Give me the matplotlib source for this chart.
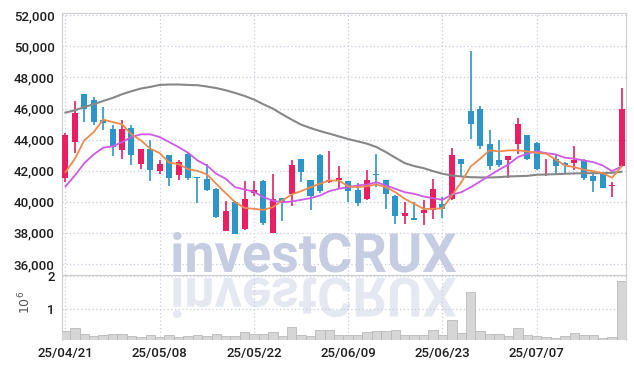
import numpy
from matplotlib import pyplot
from matplotlib.font_manager import FontProperties
from matplotlib.patches import PathPatch
from matplotlib.textpath import TextPath
from matplotlib.transforms import Affine2D, IdentityTransform

# daily candles, 25/04/21 .. 25/07/18 (trading days only)
opens = [41520, 43850, 46920, 46540, 45290, 44710, 43360, 44750, 42450, 43420,
         41975, 42990, 41740, 43100, 41560, 41480, 40840, 38150, 40020, 38260,
         40580, 41370, 37975, 40255, 40515, 42730, 41420, 42990, 41245, 41375,
         41310, 40730, 40150, 41790, 41375, 40405, 39070, 38990, 39265, 39485,
         39870, 40190, 42730, 45845, 45955, 43700, 42665, 42710, 43740, 44280,
         43810, 41700, 42730, 42470, 42490, 42710, 41630, 41760, 40990, 42280]
highs = [44420, 46490, 46970, 46750, 46100, 44920, 45290, 44920, 43400, 43950,
         42710, 43000, 42660, 43160, 41580, 42450, 40870, 40080, 40030, 41310,
         41370, 41380, 41760, 40270, 42710, 42760, 41430, 43100, 43265, 42280,
         41330, 41200, 42065, 43050, 41390, 40420, 39975, 39975, 40085, 41485,
         40300, 43485, 42740, 49700, 46150, 44645, 43955, 42930, 45420, 44300,
         43830, 42775, 42990, 42560, 43590, 42730, 41760, 41780, 41300, 47355]
lows = [41260, 43140, 45130, 44920, 44650, 42920, 42770, 42400, 42080, 41370,
        41760, 40990, 41375, 41420, 39910, 40665, 38970, 38100, 37900, 38200,
        40400, 38515, 37970, 38790, 39700, 41265, 39480, 40570, 41200, 40885,
        39975, 39740, 40140, 40940, 39550, 38580, 38580, 38800, 38515, 38900,
        38950, 40100, 41590, 44065, 43420, 42065, 42230, 41550, 43100, 42700,
        42020, 41690, 41845, 41845, 42065, 41375, 40620, 40860, 40300, 42250]
closes = [44280, 45700, 46000, 45140, 45070, 43520, 44710, 43010, 43370, 42020,
          42450, 41520, 42555, 41520, 41520, 40730, 39050, 39440, 37940, 40190,
          40790, 38620, 40190, 39975, 42340, 41910, 40405, 40665, 41420, 41520,
          40720, 39910, 41375, 41740, 40515, 39070, 39290, 38840, 39485, 40795,
          39550, 42990, 42405, 44990, 43570, 42280, 42340, 42920, 44990, 42775,
          42130, 41805, 42280, 42360, 42665, 41520, 41330, 40880, 41095, 45955]

# volume in millions of shares
volumes = [0.36, 0.43, 0.25, 0.19, 0.22, 0.25, 0.25, 0.19, 0.16, 0.22,
           0.16, 0.22, 0.16, 0.19, 0.22, 0.19, 0.25, 0.19, 0.19, 0.31,
           0.25, 0.25, 0.31, 0.19, 0.46, 0.22, 0.19, 0.37, 0.37, 0.22,
           0.22, 0.22, 0.31, 0.34, 0.34, 0.37, 0.22, 0.22, 0.22, 0.37,
           0.22, 0.67, 0.28, 1.51, 0.34, 0.25, 0.25, 0.19, 0.43, 0.22,
           0.19, 0.16, 0.13, 0.19, 0.28, 0.22, 0.22, 0.13, 0.16, 1.84]

# moving averages as drawn on the chart
ma_short = [41910, 42774, 43955, 44490, 45290, 45135, 44987, 44342, 43955, 43419,
            43135, 42520, 42430, 42100, 41990, 41770, 41161, 40555, 39974, 39612,
            39548, 39483, 39651, 40083, 40471, 40687, 40941, 41161, 41374, 41374,
            41000, 40941, 41010, 41116, 40941, 40619, 40190, 39870, 39548, 39548,
            39580, 40406, 41264, 42277, 42774, 43310, 43245, 43310, 43310, 43245,
            43150, 43097, 42728, 42341, 42232, 42064, 41974, 41845, 41548, 42277]
ma_mid = [40987, 41697, 42490, 43051, 43484, 43568, 43845, 44168, 44342, 44342,
          44168, 43845, 43522, 43161, 42664, 42341, 41806, 41483, 40941, 40794,
          40650, 40297, 40083, 39974, 40019, 40126, 40232, 40406, 40687, 40838,
          40940, 41051, 41116, 41264, 41051, 40838, 40619, 40516, 40342, 40232,
          40126, 40471, 40619, 40941, 41310, 41697, 42064, 42406, 42877, 43097,
          43255, 43135, 43051, 42838, 42774, 42664, 42555, 42341, 41974, 42277]
ma_long = [45742, 45890, 46103, 46277, 46490, 46684, 46922, 47116, 47290, 47393,
           47522, 47548, 47548, 47522, 47503, 47420, 47320, 47180, 47006, 46813,
           46580, 46277, 46000, 45632, 45290, 44968, 44748, 44555, 44387, 44213,
           44039, 43890, 43742, 43522, 43200, 42838, 42490, 42300, 42168, 41974,
           41806, 41697, 41632, 41587, 41568, 41568, 41587, 41632, 41652, 41670,
           41742, 41760, 41780, 41806, 41825, 41845, 41845, 41845, 41870, 41935]

tick_index = [0, 10, 20, 30, 40, 50]
tick_labels = ["25/04/21", "25/05/08", "25/05/22", "25/06/09", "25/06/23", "25/07/07"]
price_ticks = list(range(36000, 52001, 2000))
volume_ticks = [1, 2]

RED = "#e91e63"
BLUE = "#2e95c9"
GRID = "#c8cbdf"
SPINE = "#cfcfcf"


def add_watermark(figure):
    prop = FontProperties(family="Roboto", weight="bold")
    path = TextPath((0, 0), "investCRUX", size=1, prop=prop)
    cap = TextPath((0, 0), "X", size=1, prop=prop).get_extents().height
    box = path.get_extents()
    sx = 283.0 / box.width
    sy = 38.5 / cap
    height = figure.get_size_inches()[1] * figure.dpi
    base = height - 272.0
    main = Affine2D().translate(-box.x0, 0).scale(sx, sy).translate(173, base)
    mirror = Affine2D().translate(-box.x0, 0).scale(sx, -sy).translate(173, base - 6)
    for tr, color in [(main, "#c6cde2"), (mirror, "#e5e7f1")]:
        patch = PathPatch(tr.transform_path(path), facecolor=color,
                          edgecolor="none", transform=IdentityTransform(), zorder=-1)
        figure.add_artist(patch)


def main():
    pyplot.rcParams["font.family"] = ["Roboto", "DejaVu Sans"]

    o = numpy.array(opens)
    c = numpy.array(closes)
    x = numpy.arange(len(o))
    colors = numpy.where(c >= o, RED, BLUE)

    figure = pyplot.figure(figsize=(6.34, 3.69), dpi=100, facecolor="white")
    price = figure.add_axes([0.0973, 0.2547, 0.8897, 0.7109])
    volume = figure.add_axes([0.0973, 0.0786, 0.8897, 0.1761], sharex=price)

    price.vlines(x, lows, highs, colors=colors, linewidth=1.2, zorder=3)
    price.bar(x, numpy.maximum(numpy.abs(c - o), 60), bottom=numpy.minimum(o, c),
              width=0.64, color=colors, zorder=4)
    price.plot(x, ma_long, color="#878787", linewidth=1.5, zorder=5)
    price.plot(x, ma_mid, color="#cf5ae8", linewidth=1.3, zorder=5)
    price.plot(x, ma_short, color="#ef8a4e", linewidth=1.3, zorder=6)

    price.set_ylim(35290, 52170)
    price.set_yticks(price_ticks)
    price.set_yticklabels([f"{t:,}" for t in price_ticks])
    price.tick_params(labelbottom=False)

    volume.bar(x, volumes, width=1.0, color="#d6d6d6", edgecolor="#b9b9b9",
               linewidth=0.6, zorder=3)
    volume.set_ylim(0.08, 2.03)
    volume.set_yticks(volume_ticks)
    volume.set_ylabel(r"$10^6$", color="#555555", fontsize=9)
    volume.yaxis.set_label_coords(-0.05, 0.57)
    volume.set_xticks(tick_index)
    volume.set_xticklabels(tick_labels)
    volume.set_xlim(-0.4, 59.45)

    for axis in (price, volume):
        axis.set_facecolor("none")
        axis.set_axisbelow(True)
        axis.grid(color=GRID, linestyle=(0, (1, 2)), linewidth=0.9)
        axis.tick_params(length=0, labelsize=9.5, colors="#1e1e1e", pad=5)
        for label in axis.get_xticklabels() + axis.get_yticklabels():
            label.set_fontweight("medium")
        for spine in axis.spines.values():
            spine.set_color(SPINE)
    volume.spines["bottom"].set_visible(False)

    add_watermark(figure)
    figure.savefig("out.png", dpi=100)


if __name__ == "__main__":
    main()
